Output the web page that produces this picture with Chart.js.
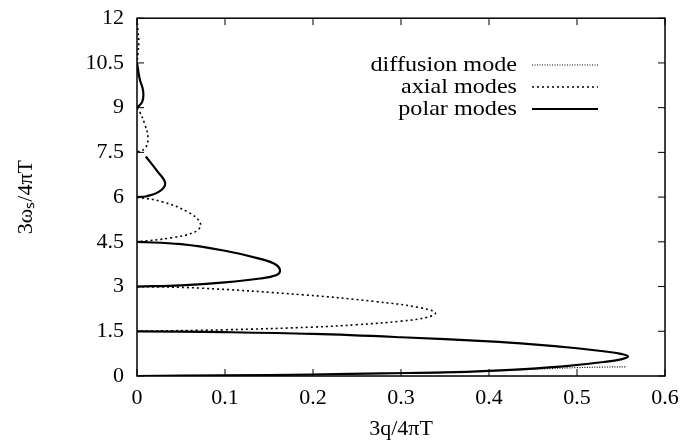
<!DOCTYPE html>
<html>
<head>
<meta charset="utf-8">
<script src="https://cdn.jsdelivr.net/npm/chart.js@4.4.1/dist/chart.umd.min.js"></script>
<style>
  html, body { margin: 0; padding: 0; background: #fff; }
  #wrap { width: 686px; height: 442px; }
</style>
</head>
<body>
<div id="wrap"><canvas id="modeChart"></canvas></div>
<script>
// axis ticks
var qTicks = [0, 0.1, 0.2, 0.3, 0.4, 0.5, 0.6];
var wTicks = [0, 1.5, 3, 4.5, 6, 7.5, 9, 10.5, 12];

// diffusion mode
var diffQ = [0, 0.1, 0.2, 0.3, 0.38, 0.43, 0.47, 0.5, 0.53, 0.557];
var diffW = [0, 0.02, 0.05, 0.1, 0.15, 0.2, 0.25, 0.28, 0.3, 0.31];

// axial modes (each lobe)
var axial1Q = [0, 0.07, 0.19, 0.27, 0.32, 0.339, 0.33, 0.3, 0.25, 0.2, 0.1, 0];
var axial1W = [3, 2.95, 2.72, 2.5, 2.3, 2.12, 1.97, 1.84, 1.72, 1.64, 1.55, 1.5];
var axial2Q = [0, 0.028, 0.059, 0.072, 0.067, 0.04, 0];
var axial2W = [6, 5.85, 5.48, 5.12, 4.85, 4.64, 4.5];
var axial3Q = [0, 0.003, 0.009, 0.0125, 0.009, 0];
var axial3W = [9, 8.87, 8.43, 7.97, 7.63, 7.5];
var axial4Q = [0, 0.001, 0.002, 0.001, 0];
var axial4W = [12, 11.6, 11.2, 10.8, 10.5];

// polar modes (each lobe)
var polar1Q = [0, 0.1, 0.2, 0.3, 0.4, 0.45, 0.5, 0.53, 0.55, 0.558, 0.55, 0.53, 0.49, 0.45, 0.4, 0.35, 0.28, 0.2, 0.1, 0];
var polar1W = [1.5, 1.47, 1.41, 1.3, 1.16, 1.06, 0.93, 0.83, 0.74, 0.65, 0.56, 0.47, 0.34, 0.25, 0.17, 0.12, 0.09, 0.05, 0.02, 0];
var polar2Q = [0, 0.05, 0.1, 0.14, 0.158, 0.1625, 0.158, 0.14, 0.1, 0.05, 0];
var polar2W = [4.5, 4.42, 4.2, 3.93, 3.73, 3.52, 3.38, 3.27, 3.14, 3.04, 3];
var polar3Q = [0.01, 0.023, 0.032, 0.026, 0.011, 0];
var polar3W = [7.36, 6.87, 6.47, 6.2, 6.03, 6];
var polar4Q = [0, 0.003, 0.007, 0.006, 0];
var polar4W = [10.5, 9.97, 9.55, 9.2, 9];

var legendNames = ["diffusion mode", "axial modes", "polar modes"];

function pts(q, w) {
	return q.map(function (v, i) { return { x: v, y: w[i] }; });
}

var diffStyle = { borderColor: '#000', borderWidth: 1.2, borderDash: [1, 1.5] };
var axialStyle = { borderColor: '#000', borderWidth: 1.6, borderDash: [2, 3] };
var polarStyle = { borderColor: '#000', borderWidth: 2.2, borderDash: [] };

function mk(q, w, st) {
	return {
		data: pts(q, w),
		showLine: true,
		fill: false,
		pointRadius: 0,
		tension: 0.4,
		borderColor: st.borderColor,
		borderWidth: st.borderWidth,
		borderDash: st.borderDash
	};
}

var datasets = [
	mk(diffQ, diffW, diffStyle),
	mk(axial1Q, axial1W, axialStyle),
	mk(axial2Q, axial2W, axialStyle),
	mk(axial3Q, axial3W, axialStyle),
	mk(axial4Q, axial4W, axialStyle),
	mk(polar1Q, polar1W, polarStyle),
	mk(polar2Q, polar2W, polarStyle),
	mk(polar3Q, polar3W, polarStyle),
	mk(polar4Q, polar4W, polarStyle)
];

var serif = "'Liberation Serif', 'Times New Roman', serif";

// frame, inward ticks on all sides, and the legend
var framePlugin = {
	id: 'frame',
	afterDraw: function (chart) {
		var ctx = chart.ctx, a = chart.chartArea;
		var xs = chart.scales.x, ys = chart.scales.y;
		ctx.save();
		ctx.strokeStyle = '#000';
		ctx.lineWidth = 1.5;
		ctx.setLineDash([]);
		ctx.strokeRect(a.left, a.top, a.right - a.left, a.bottom - a.top);
		ctx.lineWidth = 1;
		var t = 7;
		qTicks.forEach(function (v) {
			var px = xs.getPixelForValue(v);
			ctx.beginPath();
			ctx.moveTo(px, a.bottom); ctx.lineTo(px, a.bottom - t);
			ctx.moveTo(px, a.top); ctx.lineTo(px, a.top + t);
			ctx.stroke();
		});
		wTicks.forEach(function (v) {
			var py = ys.getPixelForValue(v);
			ctx.beginPath();
			ctx.moveTo(a.left, py); ctx.lineTo(a.left + t, py);
			ctx.moveTo(a.right, py); ctx.lineTo(a.right - t, py);
			ctx.stroke();
		});

		// legend
		var styles = [diffStyle, axialStyle, polarStyle];
		ctx.font = '21px ' + serif;
		ctx.fillStyle = '#000';
		ctx.textAlign = 'right';
		ctx.textBaseline = 'middle';
		legendNames.forEach(function (name, i) {
			var yy = 65 + i * 22;
			ctx.save();
			ctx.translate(517, yy);
			ctx.scale(1.15, 1);
			ctx.fillText(name, 0, 0);
			ctx.restore();
			ctx.beginPath();
			ctx.lineWidth = styles[i].borderWidth;
			ctx.setLineDash(styles[i].borderDash);
			ctx.moveTo(532, yy);
			ctx.lineTo(598, yy);
			ctx.stroke();
		});
		ctx.restore();
	}
};

var ctx = document.getElementById("modeChart").getContext('2d');
var chart = new Chart(ctx, {
	type: 'scatter',
	data: { datasets: datasets },
	plugins: [framePlugin],
	options: {
		responsive: true,
		maintainAspectRatio: false,
		animation: false,
		layout: { padding: { left: 0, right: 21, top: 17, bottom: 0 } },
		plugins: { legend: { display: false }, tooltip: { enabled: false } },
		scales: {
			x: {
				type: 'linear',
				min: 0, max: 0.6,
				afterFit: function (s) { s.height = 66; },
				afterBuildTicks: function (s) { s.ticks = qTicks.map(function (v) { return { value: v }; }); },
				grid: { display: false },
				border: { display: false },
				ticks: {
					color: '#000', padding: 1,
					font: { family: serif, size: 22 },
					callback: function (v) { return v === 0 ? '0' : v.toFixed(1); }
				},
				title: { display: true, text: '3q/4πT', color: '#000', padding: { top: 0, bottom: 0 }, font: { family: serif, size: 22 } }
			},
			y: {
				type: 'linear',
				min: 0, max: 12,
				afterFit: function (s) { s.width = 137; },
				afterBuildTicks: function (s) { s.ticks = wTicks.map(function (v) { return { value: v }; }); },
				grid: { display: false },
				border: { display: false },
				ticks: {
					color: '#000', padding: 5,
					font: { family: serif, size: 22 },
					callback: function (v) { return String(v); }
				},
				title: { display: true, text: '3ωₛ/4πT', color: '#000', padding: { top: 13, bottom: 0 }, font: { family: serif, size: 22 } }
			}
		}
	}
});
</script>
</body>
</html>
